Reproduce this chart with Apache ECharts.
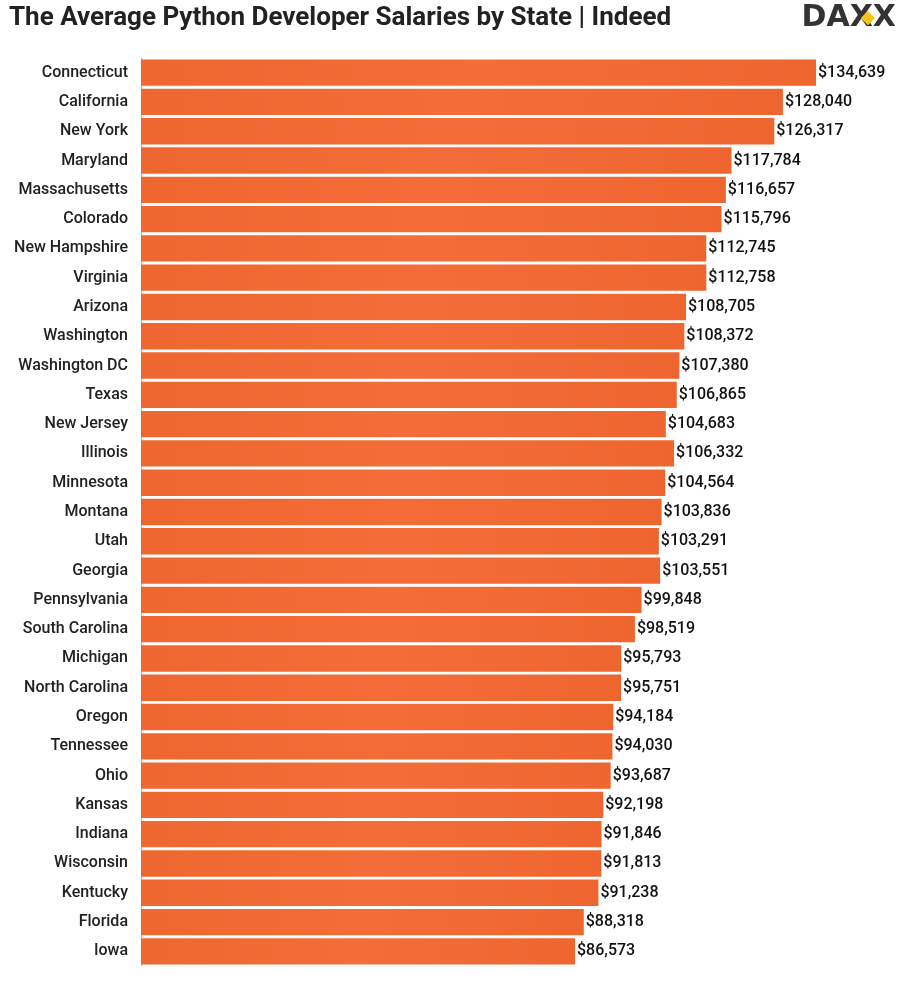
<!DOCTYPE html>
<html><head><meta charset="utf-8">
<script src="https://cdn.jsdelivr.net/npm/echarts@6/dist/echarts.min.js"></script>
<style>html,body{margin:0;padding:0;background:#fff}#c{width:900px;height:1004px}</style>
</head><body><div id="c"></div>
<script>
const states = ["Connecticut","California","New York","Maryland","Massachusetts","Colorado","New Hampshire","Virginia","Arizona","Washington","Washington DC","Texas","New Jersey","Illinois","Minnesota","Montana","Utah","Georgia","Pennsylvania","South Carolina","Michigan","North Carolina","Oregon","Tennessee","Ohio","Kansas","Indiana","Wisconsin","Kentucky","Florida","Iowa"];
const salaries = [134639,128040,126317,117784,116657,115796,112745,112758,108705,108372,107380,106865,104683,106332,104564,103836,103291,103551,99848,98519,95793,95751,94184,94030,93687,92198,91846,91813,91238,88318,86573];
const chart = echarts.init(document.getElementById('c'));
chart.setOption({
  animation:false,
  title:{text:'The Average Python Developer Salaries by State | Indeed',left:4,top:0,
    textStyle:{fontFamily:'Roboto',fontSize:26,fontWeight:'bold',color:'#222'}},
  graphic:[
    {type:'text',right:4,top:3,style:{text:'DAXX',font:'bold 30px "DejaVu Sans"',fill:'#333'}},
    {type:'rect',right:25,top:11,shape:{width:10,height:10},rotation:Math.PI/4,style:{fill:'#F5C518'}}
  ],
  grid:{left:141,top:58,width:747,bottom:38},
  xAxis:{type:'value',min:0,max:149000,show:false},
  yAxis:{type:'category',inverse:true,data:states,
    axisLine:{show:true,lineStyle:{color:'#bbb'}},axisTick:{show:false},
    axisLabel:{fontFamily:'Roboto',fontSize:16,fontWeight:500,color:'#222',margin:13}},
  series:[{type:'bar',data:salaries,barCategoryGap:'10%',
    itemStyle:{color:new echarts.graphic.LinearGradient(0,0,1,0,[{offset:0,color:'#EE6630'},{offset:0.5,color:'#F46D38'},{offset:1,color:'#EE6530'}])},
    label:{show:true,position:'right',distance:2,fontFamily:'Roboto',fontSize:16,fontWeight:500,color:'#111',
      formatter:p=>'$'+p.value.toLocaleString('en-US')}}]
});
</script></body></html>
